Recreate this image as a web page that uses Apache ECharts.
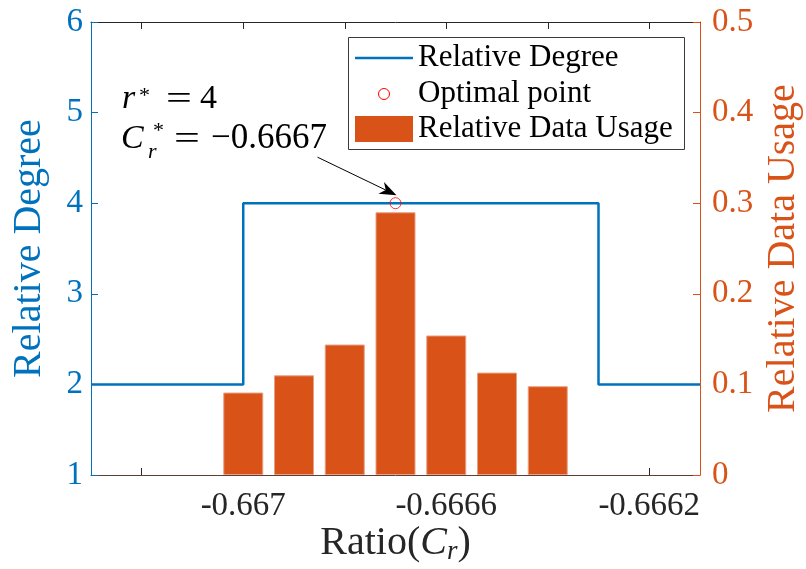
<!DOCTYPE html>
<html><head><meta charset="utf-8">
<script src="https://cdn.jsdelivr.net/npm/echarts@6/dist/echarts.min.js"></script>
<style>html,body{margin:0;padding:0;background:#fff}#c{width:806px;height:569px}</style>
</head><body><div id="c"></div>
<script>
// ---- data ----
const ratios = [-0.667, -0.6669, -0.6668, -0.6667, -0.6666, -0.6665, -0.6664];
const dataUsage = [0.091, 0.110, 0.144, 0.290, 0.154, 0.113, 0.098];
const degreeX = [-0.6673, -0.667, -0.667, -0.6663, -0.6663, -0.6661];
const degreeY = [2, 2, 4, 4, 2, 2];
const optimalPoint = [-0.6667, 4];
const xTickValues = [-0.6672, -0.667, -0.6668, -0.6666, -0.6664, -0.6662];
const xLabelValues = [-0.667, -0.6666, -0.6662];
const xRange = [-0.6673, -0.6661];
const leftRange = [1, 6];
const rightRange = [0, 0.5];

const FONT = '"Liberation Serif", "Times New Roman", serif';
const BLUE = '#0072BD', ORANGE = '#D95319', DARK = '#262626';

const chart = echarts.init(document.getElementById('c'), null, {renderer: 'canvas'});
const fmt4 = v => String(parseFloat(Number(v).toFixed(4)));
const fmt1 = v => String(parseFloat(Number(v).toFixed(1)));

const option = {
  animation: false,
  backgroundColor: '#fff',
  grid: {left: 91, right: 106, top: 22, bottom: 94, containLabel: false, outerBoundsMode: 'none'},
  xAxis: [{
    type: 'value', position: 'bottom', min: xRange[0], max: xRange[1],
    axisLine: {show: true, onZero: false, lineStyle: {color: '#5e4032', width: 1}},
    axisTick: {show: true, inside: true, length: 7, customValues: xTickValues, lineStyle: {color: DARK}},
    axisLabel: {customValues: xLabelValues, formatter: fmt4, color: DARK, fontFamily: FONT, fontSize: 33, margin: 15},
    splitLine: {show: false},
    name: '{a|Ratio(}{i|C}{s|r}{a|)}', nameLocation: 'middle', nameGap: 46, nameMoveOverlap: false,
    nameTextStyle: {color: DARK, fontFamily: FONT, fontSize: 40,
      rich: {
        a: {fontFamily: FONT, fontSize: 40, color: DARK, lineHeight: 44},
        i: {fontFamily: FONT, fontSize: 40, fontStyle: 'italic', color: DARK, lineHeight: 44},
        s: {fontFamily: FONT, fontSize: 27, fontStyle: 'italic', color: DARK, lineHeight: 22, verticalAlign: 'bottom'}
      }}
  }, {
    type: 'value', position: 'top', min: xRange[0], max: xRange[1],
    axisLine: {show: true, onZero: false, lineStyle: {color: DARK, width: 1}},
    axisTick: {show: true, inside: true, length: 7, customValues: xTickValues, lineStyle: {color: DARK}},
    axisLabel: {show: false}, splitLine: {show: false}
  }],
  yAxis: [{
    type: 'value', position: 'left', min: leftRange[0], max: leftRange[1], interval: 1,
    axisLine: {show: true, lineStyle: {color: BLUE, width: 1}},
    axisTick: {show: true, inside: true, length: 7, lineStyle: {color: BLUE}},
    axisLabel: {color: BLUE, fontFamily: FONT, fontSize: 33, margin: 8},
    splitLine: {show: false},
    name: 'Relative Degree', nameLocation: 'middle', nameGap: 42, nameRotate: 90, nameMoveOverlap: false,
    nameTextStyle: {color: BLUE, fontFamily: FONT, fontSize: 40}
  }, {
    type: 'value', position: 'right', min: rightRange[0], max: rightRange[1], interval: 0.1,
    axisLine: {show: true, lineStyle: {color: ORANGE, width: 1}},
    axisTick: {show: true, inside: true, length: 7, lineStyle: {color: ORANGE}},
    axisLabel: {color: ORANGE, fontFamily: FONT, fontSize: 33, margin: 12, formatter: fmt1},
    splitLine: {show: false},
    name: 'Relative Data Usage', nameLocation: 'middle', nameGap: 63, nameRotate: 90, nameMoveOverlap: false,
    nameTextStyle: {color: ORANGE, fontFamily: FONT, fontSize: 40}
  }],
  series: [{
    name: 'Relative Data Usage', type: 'bar', xAxisIndex: 0, yAxisIndex: 1,
    data: ratios.map((x, i) => [x, dataUsage[i]]),
    barWidth: 40,
    itemStyle: {color: ORANGE, borderColor: '#E9A083', borderWidth: 1}
  }, {
    name: 'Relative Degree', type: 'line', xAxisIndex: 0, yAxisIndex: 0,
    data: degreeX.map((x, i) => [x, degreeY[i]]),
    symbol: 'none', lineStyle: {color: BLUE, width: 2.5}, z: 3
  }, {
    name: 'Optimal point', type: 'scatter', xAxisIndex: 0, yAxisIndex: 0,
    data: [optimalPoint], symbol: 'circle', symbolSize: 11,
    itemStyle: {color: 'rgba(0,0,0,0)', borderColor: '#FF0000', borderWidth: 1}, z: 4
  }]
};
chart.setOption(option);

// ---- annotation, arrow and legend ----
const p = chart.convertToPixel({xAxisIndex: 0, yAxisIndex: 0}, optimalPoint);
const tip = [p[0] + 1, p[1] - 8];
const start = [tip[0] - 79, tip[1] - 38];
const dx = tip[0] - start[0], dy = tip[1] - start[1];
const len = Math.sqrt(dx * dx + dy * dy);
const d = [dx / len, dy / len], n = [-d[1], d[0]];
const L = 17, W = 6.5, notch = 5;
const back = [tip[0] - L * d[0], tip[1] - L * d[1]];
const head = [
  tip,
  [back[0] + W * n[0], back[1] + W * n[1]],
  [tip[0] - (L - notch) * d[0], tip[1] - (L - notch) * d[1]],
  [back[0] - W * n[0], back[1] - W * n[1]]
];
const t = (text, x, y, size, italic, color, sx) => ({
  type: 'text', x, y, silent: true, scaleX: sx || 1,
  style: {text, font: (italic ? 'italic ' : '') + size + 'px "Liberation Serif", serif',
    fill: color || '#000', align: 'left', verticalAlign: 'middle'}
});
const lg = {x: 348, y: 37, w: 336, h: 112};
chart.setOption({
  graphic: [
    {type: 'line', silent: true, shape: {x1: start[0], y1: start[1], x2: tip[0] - (L - notch) * d[0], y2: tip[1] - (L - notch) * d[1]}, style: {stroke: '#000', lineWidth: 1}},
    {type: 'polygon', silent: true, shape: {points: head}, style: {fill: '#000'}},
    t('r', 122, 99, 34, true), t('*', 139, 96, 22, false), t('=', 166, 100, 34, false, null, 1.35), t('4', 200, 99, 34, false),
    t('C', 121, 139, 34, true), t('r', 148, 152, 22, true), t('*', 153, 131, 22, false),
    t('=', 174, 140, 34, false, null, 1.35), t('\u22120.6667', 211, 139, 35, false),
    {type: 'rect', silent: true, shape: {x: lg.x + 0.5, y: lg.y + 0.5, width: lg.w, height: lg.h}, style: {fill: '#fff', stroke: '#3a3a3a', lineWidth: 1}, z: 10},
    {type: 'line', silent: true, shape: {x1: 355, y1: 58, x2: 413, y2: 58}, style: {stroke: BLUE, lineWidth: 2.5}, z: 11},
    {type: 'circle', silent: true, shape: {cx: 384, cy: 94, r: 5.5}, style: {fill: 'none', stroke: '#FF0000', lineWidth: 1}, z: 11},
    {type: 'rect', silent: true, shape: {x: 355, y: 116, width: 58, height: 26}, style: {fill: ORANGE}, z: 11},
    Object.assign(t('Relative Degree', 418, 58, 31, false), {z: 11}),
    Object.assign(t('Optimal point', 418, 94, 31, false), {z: 11}),
    Object.assign(t('Relative Data Usage', 418, 129, 31, false), {z: 11})
  ]
});
</script></body></html>
